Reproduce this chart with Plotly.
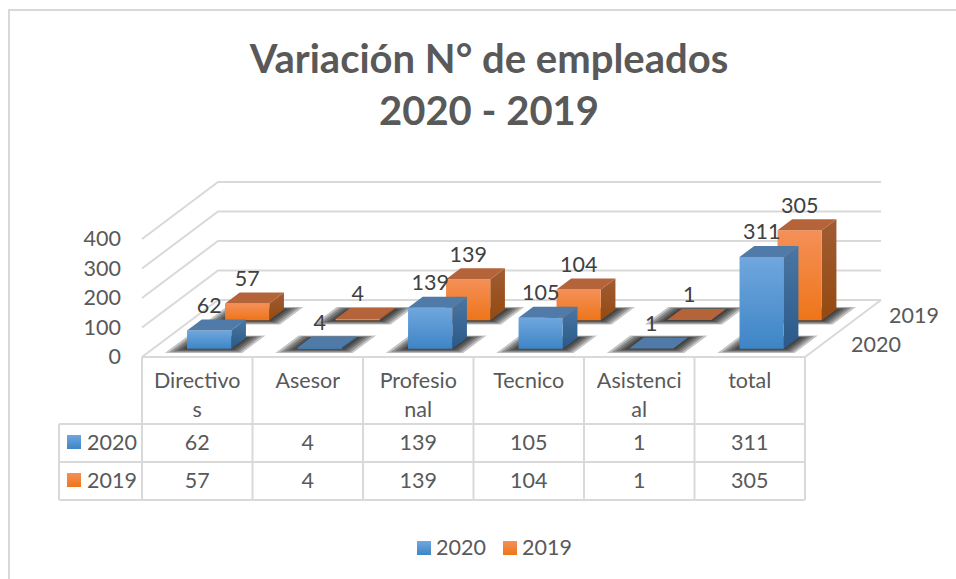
import plotly.graph_objects as go

categories = ["Directivos", "Asesor", "Profesional", "Tecnico", "Asistencial", "total"]
category_lines = ["Directivo<br>s", "Asesor", "Profesio<br>nal", "Tecnico", "Asistenci<br>al", "total"]
values_2020 = [62, 4, 139, 105, 1, 311]
values_2019 = [57, 4, 139, 104, 1, 305]
value_ticks = [0, 100, 200, 300, 400]
series_names = ["2020", "2019"]

# Oblique projection of the 3-D chart box on the 956x579 canvas
X0, Y0 = 142.0, 357.0
CAT_W = 110.5
DX, DY = 76.0, -57.0
K = 0.295
BAR_HALF = 0.2
BAR_SHIFT = 0.008
BAR_DEPTH = 0.193
ROW_START = [0.145, 0.645]
GRID = "#d9d9d9"
TXT = "#595959"
LBL = "#404040"
FONT = "Lato"
FS = 21.5
TEXT_DY = 2
STY = {
    "2020": dict(front=["#70a7de", "#3e85c6"], side=["#4a76a2", "#2a5a8a"], top="#507aa8"),
    "2019": dict(front=["#f59058", "#ee7519"], side=["#a05c34", "#944a10"], top="#b5643a"),
}


def P(c, d, v=0.0):
    return X0 + c * CAT_W + d * DX, Y0 + d * DY - v * K


fig = go.Figure()


def poly(points, color=None, grad=None):
    xs = [p[0] for p in points] + [points[0][0]]
    ys = [p[1] for p in points] + [points[0][1]]
    kw = dict(fillcolor=color) if grad is None else dict(
        fillgradient=dict(type="vertical", colorscale=[[0, grad[1]], [1, grad[0]]]))
    fig.add_trace(go.Scatter(x=xs, y=ys, mode="lines", fill="toself", line=dict(width=0),
                             hoverinfo="skip", showlegend=False, **kw))


def line(points, width=2):
    fig.add_trace(go.Scatter(x=[p[0] for p in points], y=[p[1] for p in points], mode="lines",
                             line=dict(color=GRID, width=width), hoverinfo="skip", showlegend=False))


def text(x, y, s, color=TXT, pos="middle center"):
    fig.add_trace(go.Scatter(x=[x], y=[y + TEXT_DY], mode="text", text=[s], textposition=pos,
                             textfont=dict(family=FONT, size=FS, color=color),
                             hoverinfo="skip", showlegend=False))


# walls and floor
for v in value_ticks:
    line([P(0, 0, v), P(0, 1, v), P(len(categories), 1, v)])
line([P(0, 0), P(len(categories), 0), P(len(categories), 1)])

# shadows
for r in (1, 0):
    vals = values_2019 if r else values_2020
    for i in range(len(vals)):
        c0, c1 = i + 0.5 + BAR_SHIFT - BAR_HALF, i + 0.5 + BAR_SHIFT + BAR_HALF
        d0, d1 = ROW_START[r], ROW_START[r] + BAR_DEPTH
        for ex, lo, hi in [(0.15, 0.075, 0.04), (0.12, 0.06, 0.03), (0.09, 0.045, 0.02),
                           (0.06, 0.03, 0.015), (0.03, 0.015, 0.01)]:
            poly([P(c0 - ex, d0 - lo), P(c1 + ex, d0 - lo), P(c1 + ex, d1 + hi), P(c0 - ex, d1 + hi)],
                 color="rgba(0,0,0,0.23)")

# bars, back row first
labels = []
for r in (1, 0):
    name = series_names[r]
    vals = values_2019 if r else values_2020
    s = STY[name]
    for i, v in enumerate(vals):
        c0, c1 = i + 0.5 + BAR_SHIFT - BAR_HALF, i + 0.5 + BAR_SHIFT + BAR_HALF
        d0, d1 = ROW_START[r], ROW_START[r] + BAR_DEPTH
        poly([P(c1, d0, 0), P(c1, d1, 0), P(c1, d1, v), P(c1, d0, v)], grad=s["side"])
        poly([P(c0, d0, 0), P(c1, d0, 0), P(c1, d0, v), P(c0, d0, v)], grad=s["front"])
        poly([P(c0, d0, v), P(c1, d0, v), P(c1, d1, v), P(c0, d1, v)], color=s["top"])
        x, y = P(i + 0.5 + BAR_SHIFT, d0, v)
        labels.append((x, y - 25, str(v)))
for x, y, s in labels:
    text(x, y, s, color=LBL)

# value axis and series axis labels
for v in value_ticks:
    x, y = P(0, 0, v)
    text(x - 21, y, str(v), pos="middle left")
text(876, 345, series_names[0])
text(914, 316, series_names[1])

# data table
n = len(categories)
TABLE_Y = [357, 424, 462, 500]
TABLE_LEFT = 59
for i in range(n + 1):
    x = P(i, 0)[0]
    line([(x, TABLE_Y[0]), (x, TABLE_Y[3])])
for y in TABLE_Y[1:]:
    line([(TABLE_LEFT, y), (P(n, 0)[0], y)])
line([(TABLE_LEFT, TABLE_Y[1]), (TABLE_LEFT, TABLE_Y[3])])

for i in range(n):
    xc = P(i + 0.5, 0)[0]
    parts = category_lines[i].split("<br>")
    text(xc, 381, parts[0])
    if len(parts) > 1:
        text(xc, 410, parts[1])
    text(xc, 443, str(values_2020[i]))
    text(xc, 481, str(values_2019[i]))


def swatch(x, y, name):
    s = STY[name]["front"]
    fig.add_trace(go.Scatter(x=[x], y=[y], mode="markers", hoverinfo="skip", showlegend=False,
                             marker=dict(symbol="square", size=14, color=s[0], line=dict(width=0),
                                         gradient=dict(type="vertical", color=s[1]))))


for name, y in zip(series_names, (442, 480)):
    swatch(74, y, name)
    text(87, y + 1, name, pos="middle right")

# legend
for name, sx in zip(series_names, (424, 510)):
    swatch(sx, 548, name)
    text(sx + 12, 548, name, pos="middle right")

# chart frame
line([(9, 579), (9, 10), (956, 10)])

fig.update_layout(
    width=956, height=579, margin=dict(l=0, r=0, t=0, b=0),
    paper_bgcolor="white", plot_bgcolor="white", showlegend=False,
    title=dict(text="Variación N° de empleados<br>2020 - 2019", x=489 / 956, xanchor="center",
               y=1 - 72.5 / 579, yanchor="top", font=dict(family=FONT, size=40, color=TXT, weight="bold")),
    xaxis=dict(range=[0, 956], visible=False, fixedrange=True),
    yaxis=dict(range=[579, 0], visible=False, fixedrange=True),
)
fig.write_html("out.html", post_script="document.body.style.margin='0';document.body.style.overflow='hidden';",
               config=dict(displayModeBar=False))
